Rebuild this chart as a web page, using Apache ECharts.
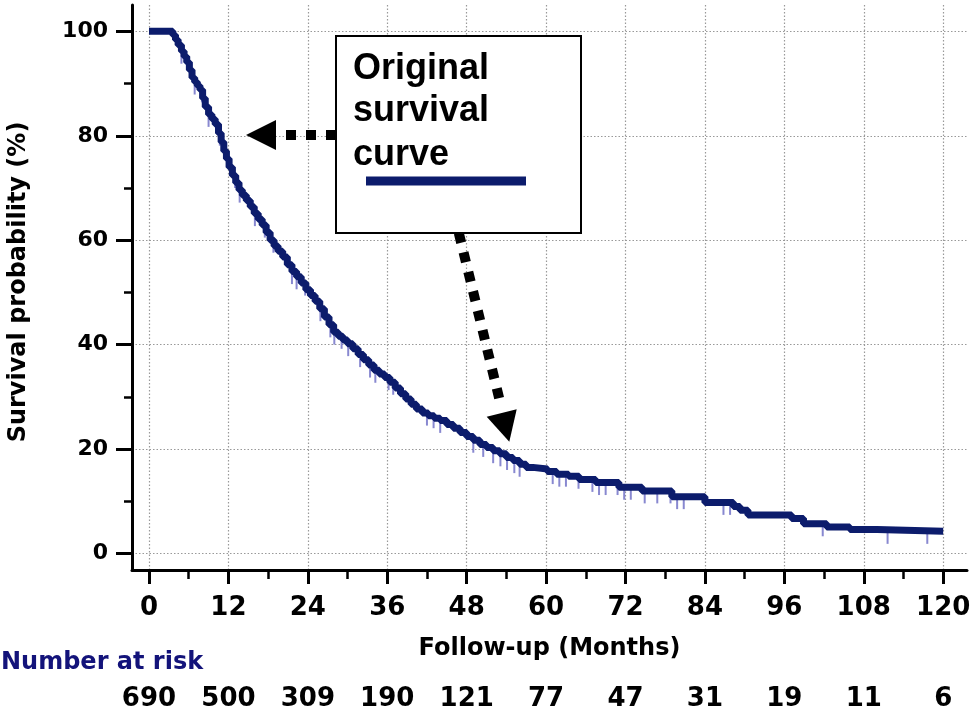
<!DOCTYPE html>
<html>
	<head>
		<meta charset="utf-8" />
		<title>Survival curve</title>
		<script src="https://cdn.jsdelivr.net/npm/echarts@6/dist/echarts.min.js"></script>
		<style>
			body { margin: 0; background: #fff; }
			#main { width: 974px; height: 712px; }
		</style>
	</head>
	<body>
		<div id="main"></div>
		<script type="text/javascript">
			// step points of the curve (months, survival %)
			var months = [0, 3.6, 4.0, 4.4, 4.9, 5.3, 5.7, 6.1, 6.5, 6.9, 7.3, 7.7, 8.1, 8.5, 9.0, 9.5, 10.0, 10.5, 10.9, 11.3,
				11.7, 12.1, 12.6, 13.1, 13.6, 14.1, 14.7, 15.3, 15.9, 16.5, 17.1, 17.7, 18.3, 18.9, 19.5, 20.2, 20.9, 21.6, 22.3, 23.0,
				23.7, 24.4, 25.1, 25.8, 26.5, 27.2, 27.9, 28.6, 29.3, 30.0, 30.8, 31.6, 32.4, 33.2, 34.0, 34.8, 35.6, 36.4, 37.2, 38.0,
				38.8, 39.6, 40.4, 41.3, 42.2, 43.1, 44.0, 45.0, 46.0, 47.0, 48.0, 49.0, 50.0, 51.0, 52.0, 53.0, 54.0, 55.0, 56.0, 57.0,
				58.0, 60.2, 61.6, 63.4, 65.0, 67.5, 71.0, 74.5, 79.0, 84.0, 88.3, 89.3, 90.5, 97.1, 98.9, 102.4, 105.9, 110.0, 120.0];
			var survival = [100, 99.3, 98.4, 97.4, 96.2, 95.2, 94.1, 92.6, 91.1, 90.3, 89.6, 88.8, 87.2, 85.5, 84.1, 83.2, 82.2, 80.5, 78.8, 77.1,
				75.6, 74.0, 72.4, 71.0, 69.6, 68.6, 67.6, 66.4, 65.1, 64.0, 62.9, 61.5, 60.0, 58.9, 57.9, 56.8, 55.3, 54.0, 53.0, 51.8,
				50.5, 49.4, 48.3, 46.9, 45.3, 43.8, 42.4, 41.6, 40.9, 40.2, 39.2, 38.1, 37.1, 36.1, 35.1, 34.4, 33.7, 32.8, 31.7, 30.6,
				29.6, 28.6, 27.7, 26.9, 26.4, 25.9, 25.5, 24.7, 24.0, 23.2, 22.4, 21.7, 20.9, 20.3, 19.7, 19.1, 18.4, 17.8, 17.1, 16.5,
				16.2, 15.7, 15.2, 14.8, 14.2, 13.6, 12.7, 12.0, 10.9, 9.8, 9.0, 8.3, 7.4, 6.7, 5.7, 5.1, 4.6, 4.25, 4.25];
			// censored times
			var censorMonths = [4.9, 6.9, 8.0, 9.0, 10.7, 13.0, 13.7, 16.0, 17.5, 18.8, 21.6, 22.3, 23.6, 25.9, 27.4, 28.0, 29.1, 30.1,
				31.9, 33.4, 34.2, 36.2, 36.9, 42.0, 43.0, 44.0, 49.0, 50.5, 52.0, 53.1, 54.1, 55.2, 56.0, 61, 62, 63, 64.9, 67, 68, 69,
				70.8, 71.8, 72.8, 74.9, 76.8, 78.8, 79.8, 80.8, 86.8, 87.8, 101.8, 111.6, 117.6];
			var xTicks = [0, 12, 24, 36, 48, 60, 72, 84, 96, 108, 120];
			var xMinorTicks = [6, 18, 30, 42, 54, 66, 78, 90, 102, 114];
			var yTicks = [0, 20, 40, 60, 80, 100];
			var yMinorTicks = [10, 30, 50, 70, 90];
			var atRisk = [690, 500, 309, 190, 121, 77, 47, 31, 19, 11, 6];

			var navy = '#0c1c6c';
			var axisFont = 'DejaVu Sans';

			function survAt(t) {
				var s = survival[0];
				for (var i = 0; i < months.length; i++) {
					if (months[i] <= t) s = survival[i];
				}
				return s;
			}

			var curveData = [];
			for (var i = 0; i < months.length; i++) curveData.push([months[i], survival[i]]);
			var censorData = [];
			for (var j = 0; j < censorMonths.length; j++) censorData.push([censorMonths[j], survAt(censorMonths[j])]);

			var myChart = echarts.init(document.getElementById('main'));

			// axes sit a bit outside the 0 lines, like in the original figure
			var xBase = { type: 'value', min: -2.57, max: 123.6, position: 'bottom' };
			var yBase = { type: 'value', min: -3.15, max: 105.05, position: 'left' };

			var option = {
				animation: false,
				grid: { left: 132, right: 7, top: 5, bottom: 141 },
				xAxis: [
					Object.assign({}, xBase, {
						name: 'Follow-up (Months)',
						nameLocation: 'middle',
						nameGap: 67,
						nameTextStyle: { fontFamily: axisFont, fontWeight: 'bold', fontSize: 24, color: '#000' },
						axisLine: { show: true, onZero: false, lineStyle: { color: '#000', width: 3 } },
						axisTick: { show: true, customValues: xTicks, length: 14, lineStyle: { color: '#000', width: 3 } },
						axisLabel: { customValues: xTicks, margin: 25, fontFamily: axisFont, fontWeight: 'bold', fontSize: 26, color: '#000' },
						splitLine: { show: true, lineStyle: { color: '#999', width: 1.2, type: [1.5, 2] } }
					}),
					Object.assign({}, xBase, {
						axisLine: { show: false, onZero: false },
						axisTick: { show: true, customValues: xMinorTicks, length: 9, lineStyle: { color: '#000', width: 2.5 } },
						axisLabel: { show: false },
						splitLine: { show: false }
					}),
					Object.assign({}, xBase, {
						axisLine: { show: false, onZero: false },
						axisTick: { show: false, customValues: xTicks },
						axisLabel: {
							customValues: xTicks, margin: 116, fontFamily: axisFont, fontWeight: 'bold', fontSize: 26, color: '#000',
							formatter: function (v) { return atRisk[Math.round(v / 12)]; }
						},
						splitLine: { show: false }
					})
				],
				yAxis: [
					Object.assign({}, yBase, {
						axisLine: { show: true, onZero: false, lineStyle: { color: '#000', width: 3 } },
						axisTick: { show: true, customValues: yTicks, length: 16, lineStyle: { color: '#000', width: 3 } },
						axisLabel: { customValues: yTicks, margin: 24, fontFamily: axisFont, fontWeight: 'bold', fontSize: 22, color: '#000' },
						splitLine: { show: true, lineStyle: { color: '#999', width: 1.2, type: [1.5, 2] } }
					}),
					Object.assign({}, yBase, {
						axisLine: { show: false, onZero: false },
						axisTick: { show: true, customValues: yMinorTicks, length: 8, lineStyle: { color: '#000', width: 2.5 } },
						axisLabel: { show: false },
						splitLine: { show: false }
					})
				],
				series: [
					{
						name: 'censored',
						type: 'scatter',
						data: censorData,
						symbol: 'rect',
						symbolSize: [2, 13],
						symbolOffset: [0, 6],
						itemStyle: { color: '#6a6ac4' },
						silent: true,
						z: 2
					},
					{
						name: 'Original survival curve',
						type: 'line',
						step: 'end',
						data: curveData,
						showSymbol: false,
						lineStyle: { color: navy, width: 7 },
						silent: true,
						z: 3
					}
				],
				graphic: [
					{
						type: 'text', x: 19, y: 282, rotation: Math.PI / 2,
						style: { text: 'Survival probability (%)', fontFamily: axisFont, fontWeight: 'bold', fontSize: 24, fill: '#000', align: 'center', verticalAlign: 'middle' }
					},
					{
						type: 'text', x: 1, y: 663,
						style: { text: 'Number at risk', fontFamily: axisFont, fontWeight: 'bold', fontSize: 24, fill: '#13137a', align: 'left', verticalAlign: 'middle' }
					},
					// annotation box
					{
						type: 'rect', z: 10,
						shape: { x: 336, y: 36, width: 245, height: 197 },
						style: { fill: '#fff', stroke: '#000', lineWidth: 2 }
					},
					{
						type: 'text', z: 11, x: 353, y: 69,
						style: { text: 'Original', fontFamily: 'Liberation Sans', fontWeight: 'bold', fontSize: 36, fill: '#000', verticalAlign: 'middle' }
					},
					{
						type: 'text', z: 11, x: 353, y: 111,
						style: { text: 'survival', fontFamily: 'Liberation Sans', fontWeight: 'bold', fontSize: 36, fill: '#000', verticalAlign: 'middle' }
					},
					{
						type: 'text', z: 11, x: 353, y: 155,
						style: { text: 'curve', fontFamily: 'Liberation Sans', fontWeight: 'bold', fontSize: 36, fill: '#000', verticalAlign: 'middle' }
					},
					{
						type: 'line', z: 11,
						shape: { x1: 366, y1: 181, x2: 526, y2: 181 },
						style: { stroke: navy, lineWidth: 9 }
					},
					// arrows
					{
						type: 'line', z: 9,
						shape: { x1: 336, y1: 135, x2: 286, y2: 135 },
						style: { stroke: '#000', lineWidth: 10, lineDash: [10, 10] }
					},
					{
						type: 'polygon', z: 9,
						shape: { points: [[246, 135], [276, 120], [276, 150]] },
						style: { fill: '#000' }
					},
					{
						type: 'line', z: 9,
						shape: { x1: 458.8, y1: 233, x2: 501.3, y2: 407 },
						style: { stroke: '#000', lineWidth: 10, lineDash: [10, 10] }
					},
					{
						type: 'polygon', z: 9,
						shape: { points: [[486.7, 416.7], [516.7, 409.3], [509.3, 441.7]] },
						style: { fill: '#000' }
					}
				]
			};

			myChart.setOption(option);
		</script>
	</body>
</html>
